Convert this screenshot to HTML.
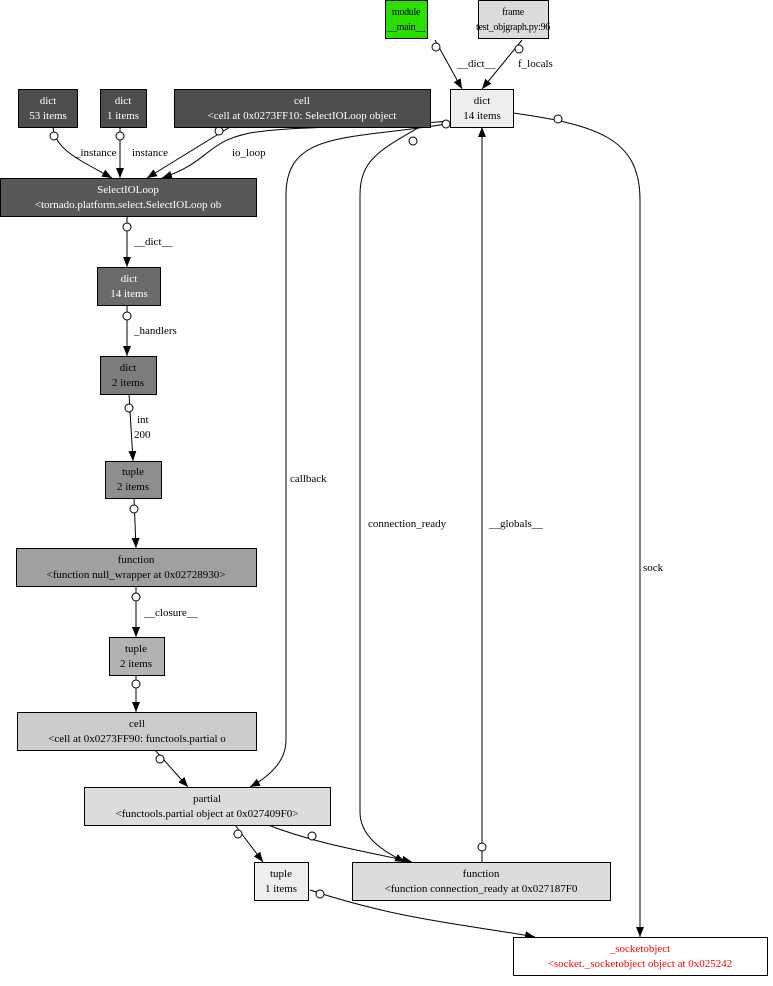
<!DOCTYPE html>
<html><head><meta charset="utf-8"><style>
html,body{margin:0;padding:0;background:#fff;}
svg{display:block;}
text{font-family:"Liberation Serif",serif;font-size:11px;}
.n{font-size:10px;letter-spacing:-0.3px;}
</style></head><body>
<svg width="773" height="986" viewBox="0 0 773 986" xmlns="http://www.w3.org/2000/svg">
<defs>
<marker id="a" viewBox="0 0 10 10" refX="10" refY="5" markerWidth="10" markerHeight="10" markerUnits="userSpaceOnUse" orient="auto"><path d="M0,1 L10,5 L0,9 Z" fill="#000"/></marker>
</defs>
<g fill="none" stroke="#000" stroke-width="1">
<path d="M435,40 L462,89" marker-end="url(#a)"/>
<path d="M522,40 L482,89" marker-end="url(#a)"/>
<path d="M53,127 C55,150 80,160 112,178" marker-end="url(#a)"/>
<path d="M120,127 L120,178" marker-end="url(#a)"/>
<path d="M230,127 L147,178" marker-end="url(#a)"/>
<path d="M448,121 C380,128 300,125 250,133 C205,142 210,162 162,178" marker-end="url(#a)"/>
<path d="M446,124 C350,140 286,130 286,195 L286,740 C286,760 272,775 250,787" marker-end="url(#a)"/>
<path d="M418,128 C380,150 360,160 360,195 L360,812 C360,835 380,850 405,862" marker-end="url(#a)"/>
<path d="M482,862 L482,127" marker-end="url(#a)"/>
<path d="M513,113 C600,125 640,140 640,200 L640,937" marker-end="url(#a)"/>
<path d="M127,216 L127,267" marker-end="url(#a)"/>
<path d="M127,305 L127,356" marker-end="url(#a)"/>
<path d="M129,394 L133,461" marker-end="url(#a)"/>
<path d="M134,498 L136,548" marker-end="url(#a)"/>
<path d="M136,586 L136,637" marker-end="url(#a)"/>
<path d="M136,675 L136,712" marker-end="url(#a)"/>
<path d="M155,750 L188,787" marker-end="url(#a)"/>
<path d="M235,825 L263,862" marker-end="url(#a)"/>
<path d="M268,825 C320,845 370,852 412,862" marker-end="url(#a)"/>
<path d="M310,890 C400,920 470,925 535,937" marker-end="url(#a)"/>
</g>
<g fill="#fff" stroke="#000">
<circle cx="436" cy="47" r="4"/><circle cx="519" cy="49" r="4"/>
<circle cx="54" cy="136" r="4"/><circle cx="120" cy="136" r="4"/><circle cx="219" cy="131" r="4"/>
<circle cx="446" cy="124" r="4"/><circle cx="413" cy="141" r="4"/><circle cx="558" cy="119" r="4"/>
<circle cx="482" cy="847" r="4"/>
<circle cx="127" cy="227" r="4"/><circle cx="127" cy="316" r="4"/><circle cx="129" cy="408" r="4"/>
<circle cx="134" cy="509" r="4"/><circle cx="136" cy="597" r="4"/><circle cx="136" cy="684" r="4"/>
<circle cx="160" cy="759" r="4"/><circle cx="238" cy="834" r="4"/><circle cx="312" cy="836" r="4"/>
<circle cx="320" cy="894" r="4"/>
</g>
<g stroke="#000">
<rect x="385.5" y="0.5" width="42" height="38" fill="#2ade00"/>
<rect x="478.5" y="0.5" width="70" height="38" fill="#dcdcdc"/>
<rect x="450.5" y="89.5" width="63" height="38" fill="#eeeeee"/>
<rect x="18.5" y="89.5" width="59" height="38" fill="#4d4d4d"/>
<rect x="100.5" y="89.5" width="46" height="38" fill="#4d4d4d"/>
<rect x="174.5" y="89.5" width="256" height="38" fill="#4d4d4d"/>
<rect x="0.5" y="178.5" width="256" height="38" fill="#585858"/>
<rect x="97.5" y="267.5" width="63" height="38" fill="#6a6a6a"/>
<rect x="100.5" y="356.5" width="56" height="38" fill="#7c7c7c"/>
<rect x="105.5" y="461.5" width="56" height="37" fill="#8e8e8e"/>
<rect x="16.5" y="548.5" width="240" height="38" fill="#a0a0a0"/>
<rect x="109.5" y="637.5" width="55" height="38" fill="#b2b2b2"/>
<rect x="17.5" y="712.5" width="239" height="38" fill="#cccccc"/>
<rect x="84.5" y="787.5" width="246" height="38" fill="#dcdcdc"/>
<rect x="254.5" y="862.5" width="54" height="38" fill="#eeeeee"/>
<rect x="352.5" y="862.5" width="258" height="38" fill="#dcdcdc"/>
<rect x="513.5" y="937.5" width="254" height="38" fill="#ffffff"/>
</g>
<g text-anchor="middle" fill="#000">
<text class="n" x="406" y="15">module</text><text class="n" x="406" y="30">__main__</text>
<text class="n" x="513" y="15">frame</text><text class="n" x="513" y="30">test_objgraph.py:96</text>
<text x="482" y="104">dict</text><text x="482" y="119">14 items</text>
<text x="136" y="667">2 items</text>
</g>
<g text-anchor="middle" fill="#fff">
<text x="48" y="104">dict</text><text x="48" y="119">53 items</text>
<text x="123" y="104">dict</text><text x="123" y="119">1 items</text>
<text x="302" y="104">cell</text><text x="302" y="119">&lt;cell at 0x0273FF10: SelectIOLoop object</text>
<text x="128" y="193">SelectIOLoop</text><text x="128" y="208">&lt;tornado.platform.select.SelectIOLoop ob</text>
<text x="129" y="282">dict</text><text x="129" y="297">14 items</text>
</g>
<g text-anchor="middle" fill="#000">
<text x="128" y="371">dict</text><text x="128" y="386">2 items</text>
<text x="133" y="475">tuple</text><text x="133" y="490">2 items</text>
<text x="136" y="563">function</text><text x="136" y="578">&lt;function null_wrapper at 0x02728930&gt;</text>
<text x="136" y="652">tuple</text>
<text x="137" y="727">cell</text><text x="137" y="742">&lt;cell at 0x0273FF90: functools.partial o</text>
<text x="207" y="802">partial</text><text x="207" y="817">&lt;functools.partial object at 0x027409F0&gt;</text>
<text x="281" y="877">tuple</text><text x="281" y="892">1 items</text>
<text x="481" y="877">function</text><text x="481" y="892">&lt;function connection_ready at 0x027187F0</text>
<text x="640" y="952" fill="#ff0000">_socketobject</text><text x="640" y="967" fill="#ff0000">&lt;socket._socketobject object at 0x025242</text>
</g>
<g fill="#000">
<text x="457" y="67">__dict__</text>
<text x="518" y="67">f_locals</text>
<text x="75" y="156">_instance</text>
<text x="132" y="156">instance</text>
<text x="232" y="156">io_loop</text>
<text x="134" y="245">__dict__</text>
<text x="134" y="334">_handlers</text>
<text x="137" y="423">int</text>
<text x="134" y="438">200</text>
<text x="144" y="616">__closure__</text>
<text x="290" y="482">callback</text>
<text x="368" y="527">connection_ready</text>
<text x="489" y="527">__globals__</text>
<text x="643" y="571">sock</text>
</g>
</svg>
</body></html>
